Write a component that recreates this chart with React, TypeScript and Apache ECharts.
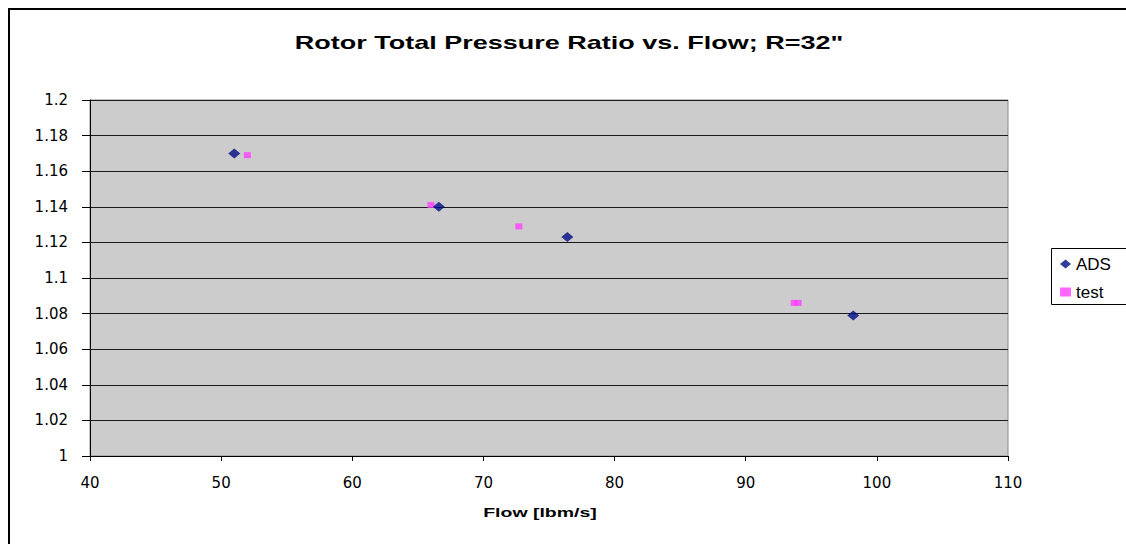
import React, { useEffect, useRef } from "react";
import * as echarts from "echarts";

const adsFlow = [51.0, 66.6, 76.4, 98.2];
const adsRatio = [1.170, 1.140, 1.123, 1.079];
const testFlow = [52.0, 66.0, 72.7, 93.7, 94.0];
const testRatio = [1.169, 1.141, 1.129, 1.086, 1.086];

const titleText = 'Rotor Total Pressure Ratio vs. Flow; R=32"';
const xAxisTitle = "Flow [lbm/s]";
const seriesNames = ["ADS", "test"];

export default function App() {
  const ref = useRef<HTMLDivElement>(null);
  useEffect(() => {
    if (!ref.current) return;
    document.documentElement.style.overflow = "hidden";
    document.body.style.overflow = "hidden";
    const chart = echarts.init(ref.current, undefined, { renderer: "svg" });
    const ads = adsFlow.map((x, i) => [x, adsRatio[i]]);
    const test = testFlow.map((x, i) => [x, testRatio[i]]);
    chart.setOption({
      animation: false,
      backgroundColor: "#ffffff",
      textStyle: { fontFamily: '"Liberation Sans", Arial, sans-serif' },
      grid: {
        left: 82,
        top: 92,
        width: 918,
        height: 356,
        show: true,
        backgroundColor: "#CCCCCC",
        borderColor: "#8a8a8a",
        borderWidth: 1,
      },
      xAxis: {
        type: "value",
        min: 40,
        max: 110,
        interval: 10,
        axisLine: { show: true, lineStyle: { color: "#000", width: 1 } },
        axisTick: { show: true, length: 5, lineStyle: { color: "#000" } },
        splitLine: { show: false },
        axisLabel: {
          margin: 19,
          fontSize: 15,
          color: "#000",
          fontFamily: '"DejaVu Sans", sans-serif',
        },
      },
      yAxis: {
        type: "value",
        min: 1,
        max: 1.2,
        interval: 0.02,
        axisLine: { show: true, lineStyle: { color: "#000", width: 1 } },
        axisTick: { show: true, length: 8, lineStyle: { color: "#000" } },
        splitLine: { show: true, lineStyle: { color: "#1a1a1a", width: 1 } },
        axisLabel: {
          margin: 22,
          fontSize: 15,
          color: "#000",
          fontFamily: '"DejaVu Sans", sans-serif',
        },
      },
      legend: {
        orient: "vertical",
        left: 1044,
        top: 240,
        data: [
          { name: seriesNames[0], icon: "diamond" },
          { name: seriesNames[1], icon: "rect" },
        ],
        itemWidth: 11,
        itemHeight: 9,
        itemGap: 10,
        itemTextGap: 7,
        itemStyle: { borderWidth: 0 },
        textStyle: { fontSize: 17, color: "#000", lineHeight: 18 },
        padding: [7, 10, 4, 8],
        borderWidth: 0,
        backgroundColor: "transparent",
      },
      graphic: [
        {
          type: "polyline",
          shape: { points: [[1, 800], [1, 1], [1400, 1]] },
          style: { fill: "none", stroke: "#000", lineWidth: 2 },
          z: 100,
          silent: true,
        },
        {
          type: "polyline",
          shape: { points: [[1300, 240.5], [1043.5, 240.5], [1043.5, 296.5], [1300, 296.5]] },
          style: { fill: "none", stroke: "#000", lineWidth: 1 },
          z: 100,
          silent: true,
        },
        {
          type: "text",
          x: 561,
          y: 35,
          scaleX: 1.5,
          style: {
            text: titleText,
            font: 'bold 18px "Liberation Sans", Arial, sans-serif',
            fill: "#000",
            textAlign: "center",
            textVerticalAlign: "middle",
          },
        },
        {
          type: "text",
          x: 532,
          y: 505,
          scaleX: 1.5,
          style: {
            text: xAxisTitle,
            font: 'bold 13px "Liberation Sans", Arial, sans-serif',
            fill: "#000",
            textAlign: "center",
            textVerticalAlign: "middle",
          },
        },
      ],
      series: [
        {
          name: seriesNames[0],
          type: "scatter",
          data: ads,
          symbol: "diamond",
          symbolSize: [12, 10],
          itemStyle: { color: "#000C82" },
          z: 3,
        },
        {
          name: seriesNames[1],
          type: "scatter",
          data: test,
          symbol: "rect",
          symbolSize: [7, 6],
          itemStyle: { color: "#FF40FF" },
          z: 2,
        },
      ],
    });
    return () => chart.dispose();
  }, []);
  return (
    <div
      ref={ref}
      style={{ position: "absolute", left: 8, top: 8, width: 1140, height: 560 }}
    />
  );
}
